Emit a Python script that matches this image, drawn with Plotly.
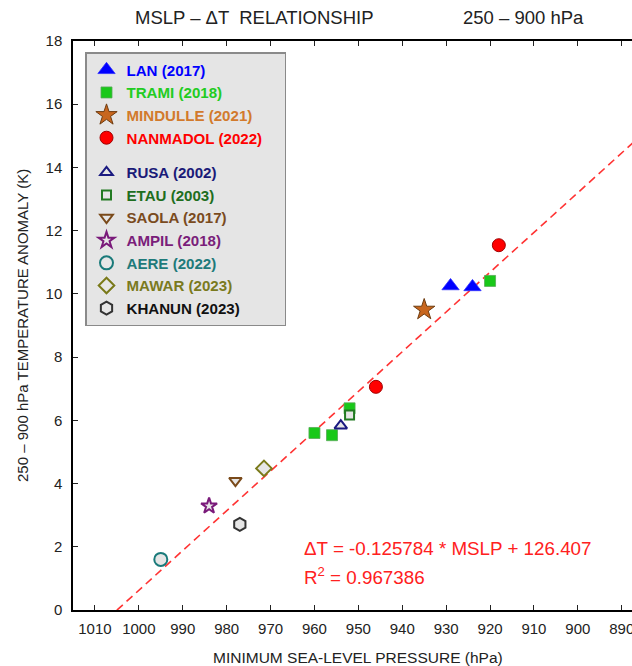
import plotly.graph_objects as go

# ---------------- data ----------------
storm_names = ["LAN (2017)", "TRAMI (2018)", "MINDULLE (2021)", "NANMADOL (2022)",
               "RUSA (2002)", "ETAU (2003)", "SAOLA (2017)", "AMPIL (2018)",
               "AERE (2022)", "MAWAR (2023)", "KHANUN (2023)"]
lan_p = [929, 924]
lan_t = [10.25, 10.22]
trami_p = [920, 952, 956, 960]
trami_t = [10.41, 6.38, 5.53, 5.6]
mindulle_p = [935]
mindulle_t = [9.5]
nanmadol_p = [918, 946]
nanmadol_t = [11.54, 7.06]
rusa_p = [954]
rusa_t = [5.83]
etau_p = [952]
etau_t = [6.17]
saola_p = [978]
saola_t = [4.09]
ampil_p = [984]
ampil_t = [3.29]
aere_p = [995]
aere_t = [1.6]
mawar_p = [971.5]
mawar_t = [4.48]
khanun_p = [977]
khanun_t = [2.71]

slope = -0.125784
intercept = 126.407
r2 = 0.967386
fit_p = [1005, 880]

x_ticks = [1010, 1000, 990, 980, 970, 960, 950, 940, 930, 920, 910, 900, 890]
y_ticks = [0, 2, 4, 6, 8, 10, 12, 14, 16, 18]

# ---------------- styles ----------------
LIGHT = "#e6e6e6"
styles = [
    # (p, t, symbol, size, fill, line color, line width, text color, group)
    (lan_p, lan_t, "triangle-up", 15, "#0000ff", "#3030ff", 0.8, "#0000ff", "a"),
    (trami_p, trami_t, "square", 11, "#19c819", "#55aa55", 0.8, "#22cc22", "a"),
    (mindulle_p, mindulle_t, "star", 16, "#c8661e", "#6e3c10", 1, "#d27a2c", "a"),
    (nanmadol_p, nanmadol_t, "circle", 13, "#ff0000", "#a00000", 1, "#ff0000", "a"),
    (rusa_p, rusa_t, "triangle-up", 11, LIGHT, "#1a1a80", 2, "#1a1a78", "b"),
    (etau_p, etau_t, "square", 9, LIGHT, "#227a22", 2, "#1e6e1e", "b"),
    (saola_p, saola_t, "triangle-down", 11, LIGHT, "#7a4a1a", 2, "#7a4b1e", "b"),
    (ampil_p, ampil_t, "star", 12, LIGHT, "#7a1a7a", 2, "#7a1e7a", "b"),
    (aere_p, aere_t, "circle", 13, LIGHT, "#1a7a7a", 2, "#1e7a7a", "b"),
    (mawar_p, mawar_t, "diamond", 12, LIGHT, "#7a7a1a", 2, "#7a7a1e", "b"),
    (khanun_p, khanun_t, "hexagon", 13, LIGHT, "#333333", 2, "#111111", "b"),
]

fig = go.Figure()

fig.add_trace(go.Scatter(
    x=fit_p, y=[slope * p + intercept for p in fit_p],
    mode="lines", line=dict(color="#ff3333", width=1.6, dash="8px,5px"),
    showlegend=False, hoverinfo="skip"))

for i, (name, (p, t, sym, size, fill, lc, lw, tc, grp)) in enumerate(zip(storm_names, styles)):
    pad = "&nbsp;" * 4 if i == 3 else ""
    fig.add_trace(go.Scatter(
        x=p, y=t, mode="markers",
        name=f"<span style='color:{tc}'><b>{name}</b></span>{pad}",
        legendgroup=grp,
        marker=dict(symbol=sym, size=size, color=fill,
                    line=dict(color=lc, width=lw)),
    ))

FONT = "Liberation Sans, Arial, Helvetica, sans-serif"

L, T, B = 73, 41, 56
W, H = 632, 666
pw = W - L
ph = H - T - B

def px(x):
    return (x - L) / pw

def py(y):
    return (H - B - y) / ph

annotations = [
    dict(text="MSLP \u2013 \u0394T  RELATIONSHIP", x=px(254), y=py(17), xref="paper", yref="paper",
         showarrow=False, font=dict(size=18.5, color="#222"), xanchor="center", yanchor="middle"),
    dict(text="250 \u2013 900 hPa", x=px(523), y=py(17), xref="paper", yref="paper",
         showarrow=False, font=dict(size=18.5, color="#222"), xanchor="center", yanchor="middle"),
    dict(text="MINIMUM SEA-LEVEL PRESSURE (hPa)", x=px(358), y=py(657), xref="paper", yref="paper",
         showarrow=False, font=dict(size=15.5, color="#222"), xanchor="center", yanchor="middle"),
    dict(text="250 \u2013 900 hPa TEMPERATURE ANOMALY (K)", x=px(22), y=py(326), xref="paper", yref="paper",
         showarrow=False, font=dict(size=15, color="#222"), xanchor="center", yanchor="middle",
         textangle=-90),
    dict(text=f"\u0394T = {slope} * MSLP + {intercept}", x=px(302), y=py(548), xref="paper", yref="paper",
         showarrow=False, font=dict(size=18.8, color="#ff2020"), xanchor="left", yanchor="middle"),
    dict(text=f"R<sup>2</sup> = {r2}", x=px(302), y=py(576), xref="paper", yref="paper",
         showarrow=False, font=dict(size=18.8, color="#ff2020"), xanchor="left", yanchor="middle"),
]

fig.update_layout(
    width=W, height=H,
    margin=dict(l=L, r=0, t=T, b=B, pad=0, autoexpand=False),
    paper_bgcolor="white", plot_bgcolor="white",
    font=dict(family=FONT, size=15, color="#222"),
    annotations=annotations,
    showlegend=True,
    legend=dict(x=px(85), y=py(52), xanchor="left", yanchor="top",
                bgcolor="#e5e5e5", bordercolor="#8a8a8a", borderwidth=1.5,
                font=dict(family=FONT, size=15.1),
                tracegroupgap=12, traceorder="grouped", itemsizing="trace"),
    xaxis=dict(range=[1015, 1015 - pw / 4.39], tickvals=x_ticks, automargin=False,
               showgrid=False, zeroline=False, showline=True, linecolor="black", linewidth=1.5,
               mirror="ticks", ticks="inside", ticklen=5, tickwidth=1, tickcolor="#222",
               ticklabelstandoff=4, ticklabeloverflow="allow",
               tickfont=dict(size=15, color="#222")),
    yaxis=dict(range=[0, 18], tickvals=y_ticks, automargin=False,
               showgrid=False, zeroline=False, showline=True, linecolor="black", linewidth=1.5,
               mirror=False, ticks="inside", ticklen=5, tickwidth=1, tickcolor="#222",
               ticklabelstandoff=6,
               tickfont=dict(size=15, color="#222")),
)

fig.write_html("out.html", config={"displayModeBar": False},
               post_script="document.body.style.margin='0';")
